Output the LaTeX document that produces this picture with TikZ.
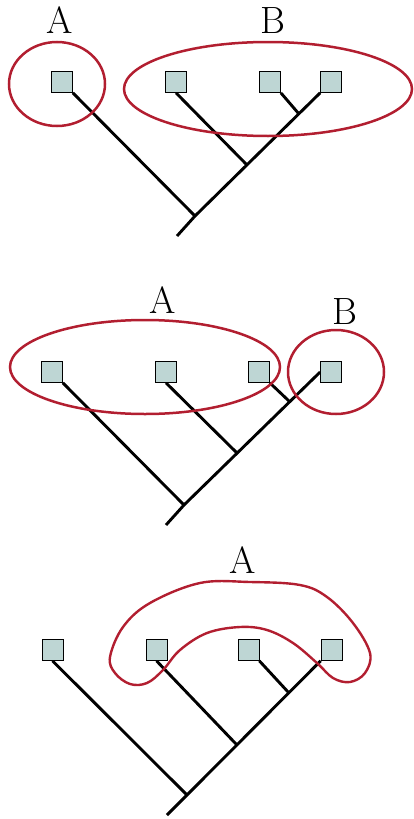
\documentclass[tikz,border=0pt]{standalone}
\usepackage{fontspec}
\usetikzlibrary{positioning,shapes.geometric,backgrounds}
\definecolor{leaffill}{RGB}{190,214,212}
\definecolor{grpred}{RGB}{178,30,48}

\begin{document}
\begin{tikzpicture}[
  x=1pt, y=-1pt,
  leaf/.style  ={rectangle, draw=black, line width=0.7pt, fill=leaffill,
                 minimum size=21pt, inner sep=0pt},
  branch/.style={line width=2.9pt, draw=black},
  grp/.style   ={ellipse, draw=grpred, line width=2.5pt, inner sep=0pt},
  blob/.style  ={draw=grpred, line width=2.4pt},
  lbl/.style   ={font=\fontsize{38}{40}\selectfont, inner sep=0pt},
]
\useasboundingbox (0,0) rectangle (413,819);

% -------- tree 1 ----------------------------------------------------------
\node[leaf] (a1) at (62,82)  {};
\node[leaf] (a2) at (176,82) {};
\node[leaf] (a3) at (270,82) {};
\node[leaf] (a4) at (331,82) {};
\coordinate (ar)  at (195,216);
\coordinate (an2) at (247,165);
\coordinate (an3) at (299,114);
\coordinate (ast) at (177,236);

\begin{scope}[on background layer]
  \draw[branch] (ast) -- (ar) -- (a4.south west);
  \draw[branch] (a1.south east) -- (ar);
  \draw[branch] (a2.south) -- (an2);
  \draw[branch] (a3.south east) -- (an3);
\end{scope}

\node[grp, minimum width=96pt,  minimum height=84pt] (ga1) at (57,84)  {};
\node[grp, minimum width=288pt, minimum height=94pt] (gb1) at (268,89) {};
\node[lbl, above=7pt of ga1, xshift=3pt] {A};
\node[lbl, above=7pt of gb1, xshift=5pt] {B};

% -------- tree 2 ----------------------------------------------------------
\node[leaf] (b1) at (52,372)  {};
\node[leaf] (b2) at (166,372) {};
\node[leaf] (b3) at (259,372) {};
\node[leaf] (b4) at (331,372) {};
\coordinate (br)  at (184,505);
\coordinate (bn2) at (237,453);
\coordinate (bn3) at (290,402);
\coordinate (bst) at (166,525);

\begin{scope}[on background layer]
  \draw[branch] (bst) -- (br) -- (b4.west);
  \draw[branch] (b1.south east) -- (br);
  \draw[branch] (b2.south) -- (bn2);
  \draw[branch] (b3.south east) -- (bn3);
\end{scope}

\node[grp, minimum width=270pt, minimum height=94pt] (ga2) at (145,367) {};
\node[grp, minimum width=96pt,  minimum height=84pt] (gb2) at (336,372) {};
\node[lbl, above=5pt of ga2, xshift=18pt] {A};
\node[lbl, above=4pt of gb2, xshift=9pt]  {B};

% -------- tree 3 ----------------------------------------------------------
\node[leaf] (c1) at (52.5,650)  {};
\node[leaf] (c2) at (156.5,650) {};
\node[leaf] (c3) at (248.5,650) {};
\node[leaf] (c4) at (331.5,650) {};
\coordinate (cr)  at (187,795);
\coordinate (cn2) at (237,745);
\coordinate (cn3) at (289,693);
\coordinate (cst) at (167,815);

\begin{scope}[on background layer]
  \draw[branch] (cst) -- (cr) -- (c4.south west);
  \draw[branch] (c1.south) -- (cr);
  \draw[branch] (c2.south) -- (cn2);
  \draw[branch] (c3.south east) -- (cn3);
\end{scope}

% non-convex group
\draw[blob] plot[smooth cycle, tension=0.6] coordinates {
  (110,657) (123,627) (150,603) (200,583) (250,582) (300,585) (327,597)
  (353,623) (370,653) (365,673) (350,682) (333,678) (317,663) (293,643)
  (267,630) (240,627) (207,633) (180,650) (163,670) (147,683) (130,684)
  (115,673)};
\node[lbl] (gc3) at (243,560) {A};

\end{tikzpicture}
\end{document}
